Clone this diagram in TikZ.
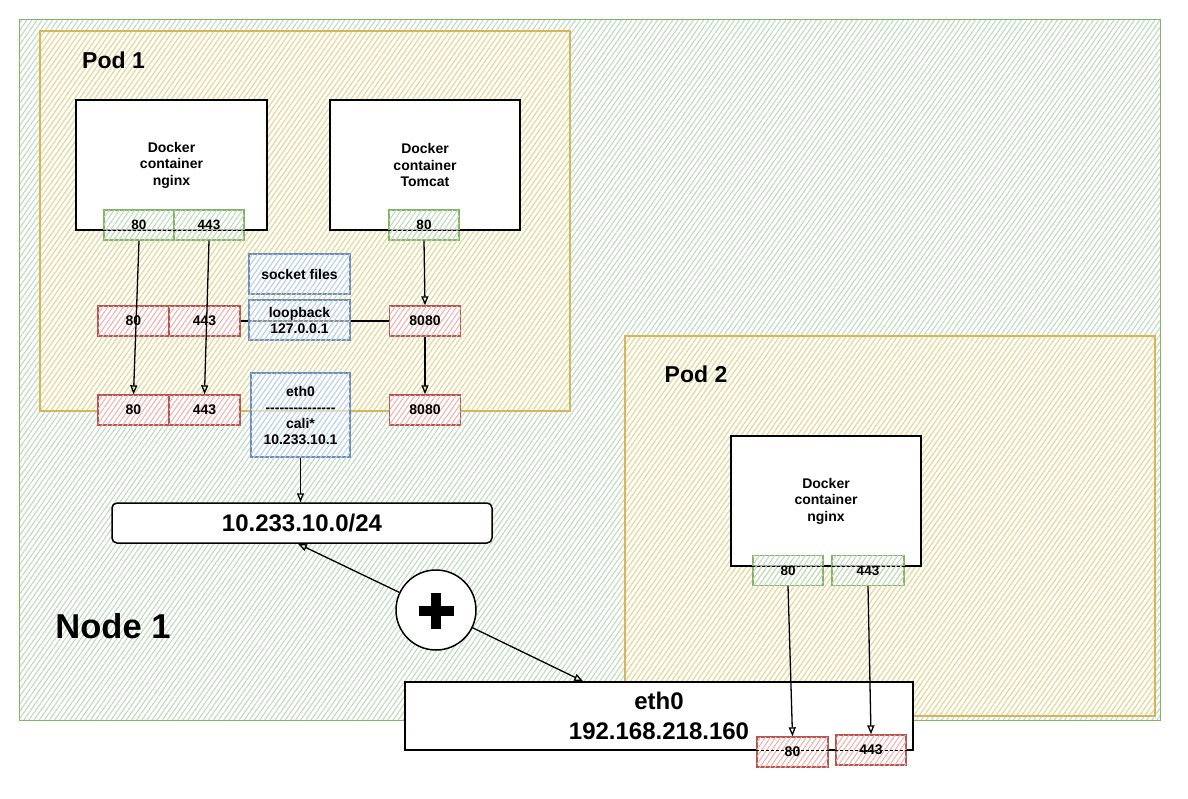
\documentclass[tikz,border=0pt]{standalone}
\usepackage{fontspec}
\setmainfont{Liberation Sans}[Ligatures=TeXOff]
\usetikzlibrary{patterns.meta,arrows.meta,calc}
\definecolor{ngreen}{HTML}{82B366}
\definecolor{nhatch}{HTML}{BBD8B8}
\definecolor{pyellow}{HTML}{D6B656}
\definecolor{phatch}{HTML}{F0DC96}
\definecolor{rstroke}{HTML}{B85450}
\definecolor{rhatch}{HTML}{EFAFAB}
\definecolor{bstroke}{HTML}{6C8EBF}
\definecolor{bhatch}{HTML}{B9D1F0}
\definecolor{ghatch}{HTML}{BCD9B8}
\tikzset{
  hatchlines/.style={pattern={Lines[angle=55,distance=4.2pt,line width=1pt]}},
  nodearea/.style={draw=ngreen, line width=1.5pt, hatchlines, pattern color=nhatch, inner sep=0pt, anchor=north west},
  podarea/.style={draw=pyellow, line width=1.5pt, hatchlines, pattern color=phatch, inner sep=0pt, anchor=north west},
  container/.style={draw=black, line width=1.5pt, fill=white, align=center, inner sep=0pt,
    font=\fontsize{14}{16.5}\selectfont\bfseries},
  gport/.style={draw=ngreen, line width=1.4pt, fill=white, fill opacity=0.6, text opacity=1,
    postaction={hatchlines, pattern color=ghatch}, inner sep=0pt,
    minimum width=70pt, minimum height=30pt, font=\fontsize{13.5}{13.5}\selectfont\bfseries},
  rport/.style={draw=rstroke, line width=1.4pt, fill=white,
    postaction={hatchlines, pattern color=rhatch}, inner sep=0pt,
    minimum width=71pt, minimum height=30pt, font=\fontsize{14}{14}\selectfont\bfseries},
  bbox/.style={draw=bstroke, line width=1.4pt, fill=white, fill opacity=0.55, text opacity=1,
    postaction={hatchlines, pattern color=bhatch}, inner sep=0pt, align=center,
    font=\fontsize{14}{16}\selectfont\bfseries},
  wbox/.style={draw=black, line width=1.5pt, fill=white, inner sep=0pt},
  lbl/.style={inner sep=0pt, font=\bfseries},
  arr/.style={draw=black, line width=1.3pt, -{Triangle[open,length=9pt,width=7pt]}},
  dline/.style={draw=black, line width=1pt, dash pattern=on 3pt off 2pt},
}
\begin{document}
\begin{tikzpicture}[x=1pt,y=-1pt]
\useasboundingbox (0,0) rectangle (1188,798);
% areas
\node[nodearea, minimum width=1141pt, minimum height=701pt] (node1) at (19,19) {};
\node[podarea, minimum width=530pt, minimum height=380pt] (pod1) at (39,30) {};
\node[podarea, minimum width=530pt, minimum height=380pt] (pod2) at (624,335) {};
\node[lbl, font=\fontsize{23}{23}\selectfont\bfseries] (pod1lbl) at (113.5,60) {Pod 1};
\node[lbl, font=\fontsize{23}{23}\selectfont\bfseries] (pod2lbl) at (696,374) {Pod 2};
\node[lbl, font=\fontsize{34.5}{34.5}\selectfont\bfseries] (node1lbl) at (113,626) {Node 1};

% containers pod 1
\node[container, minimum width=191pt, minimum height=130pt] (c1) at (171.5,165) {Docker\\container\\nginx};
\node[container, minimum width=190pt, minimum height=130pt] (c2) at (425,165) {Docker\\container\\Tomcat};
\node[gport] (g80) at (139,225) {80};
\node[gport] (g443) at (209,225) {443};
\node[gport] (gt80) at (424,225) {80};
\draw[dline] (g80.west |- c1.south) -- (g443.east |- c1.south);
\draw[dline] (gt80.west |- c2.south) -- (gt80.east |- c2.south);

% loopback line
\node[rport] (r1a) at (133.5,321) {80};
\node[rport] (r1b) at (204.5,321) {443};
\node[rport] (r1c) at (425,321) {8080};
\draw[line width=1.4pt] (r1b.east) -- (r1c.west);
\node[bbox, minimum width=101pt, minimum height=40pt] (sock) at (299.5,274) {socket files};
\node[bbox, minimum width=101pt, minimum height=40pt] (lb) at (299.5,320) {loopback\\127.0.0.1};

\node[rport] (r2a) at (133.5,410) {80};
\node[rport] (r2b) at (204.5,410) {443};
\node[rport] (r2c) at (425,410) {8080};
\node[bbox, minimum width=99pt, minimum height=84pt] (cali) at (300.5,415) {eth0\\---------------\\cali*\\10.233.10.1};

% arrows pod 1
\draw[arr] (g80.south) -- (r2a.north);
\draw[arr] (g443.south) -- (r2b.north);
\draw[arr] (gt80.south) -- (r1c.north);
\draw[arr] (r1c.south) -- (r2c.north);

% subnet
\node[wbox, rounded corners=5pt, minimum width=380pt, minimum height=40pt,
  font=\fontsize{24}{24}\selectfont\bfseries] (subnet) at (302,523) {10.233.10.0/24};
\draw[arr] (cali.south) -- (cali.south |- subnet.north);

% pod 2
\node[container, minimum width=190pt, minimum height=130pt] (c3) at (826,501) {Docker\\container\\nginx};
\node[gport] (gp80) at (788,570.5) {80};
\node[gport, minimum width=72pt] (gp443) at (868,570.5) {443};
\draw[dline] (gp80.west |- c3.south) -- (gp443.east |- c3.south);

% eth0 host
\node[wbox, minimum width=508pt, minimum height=68pt, align=center,
  font=\fontsize{24}{30}\selectfont\bfseries] (eth0) at (659,716) {eth0\\192.168.218.160};
\node[rport] (ep80) at (792.5,752) {80};
\node[rport, minimum width=70pt] (ep443) at (871,750) {443};
\draw[dline] (ep80.west |- eth0.south) -- (ep80.east |- eth0.south);
\draw[dline] (ep443.west |- eth0.south) -- (ep443.east |- eth0.south);
\draw[arr] (gp80.south) -- (ep80.north);
\draw[arr] (gp443.south) -- (ep443.north);

% router circle
\node[draw=black, line width=1.5pt, fill=white, circle, minimum size=80pt, inner sep=0pt] (plus) at (436,610) {};
\draw[line width=10pt] ($(plus)+(-17.5,1)$) -- ($(plus)+(17.5,1)$);
\draw[line width=10pt] ($(plus)+(0,-17)$) -- ($(plus)+(0,19)$);
\coordinate (ethin) at ($(eth0.north west)!0.351!(eth0.north east)$);
\draw[arr] (plus) -- ($(subnet.south)+(-4,0)$);
\draw[arr] (plus) -- (ethin);
\end{tikzpicture}
\end{document}
